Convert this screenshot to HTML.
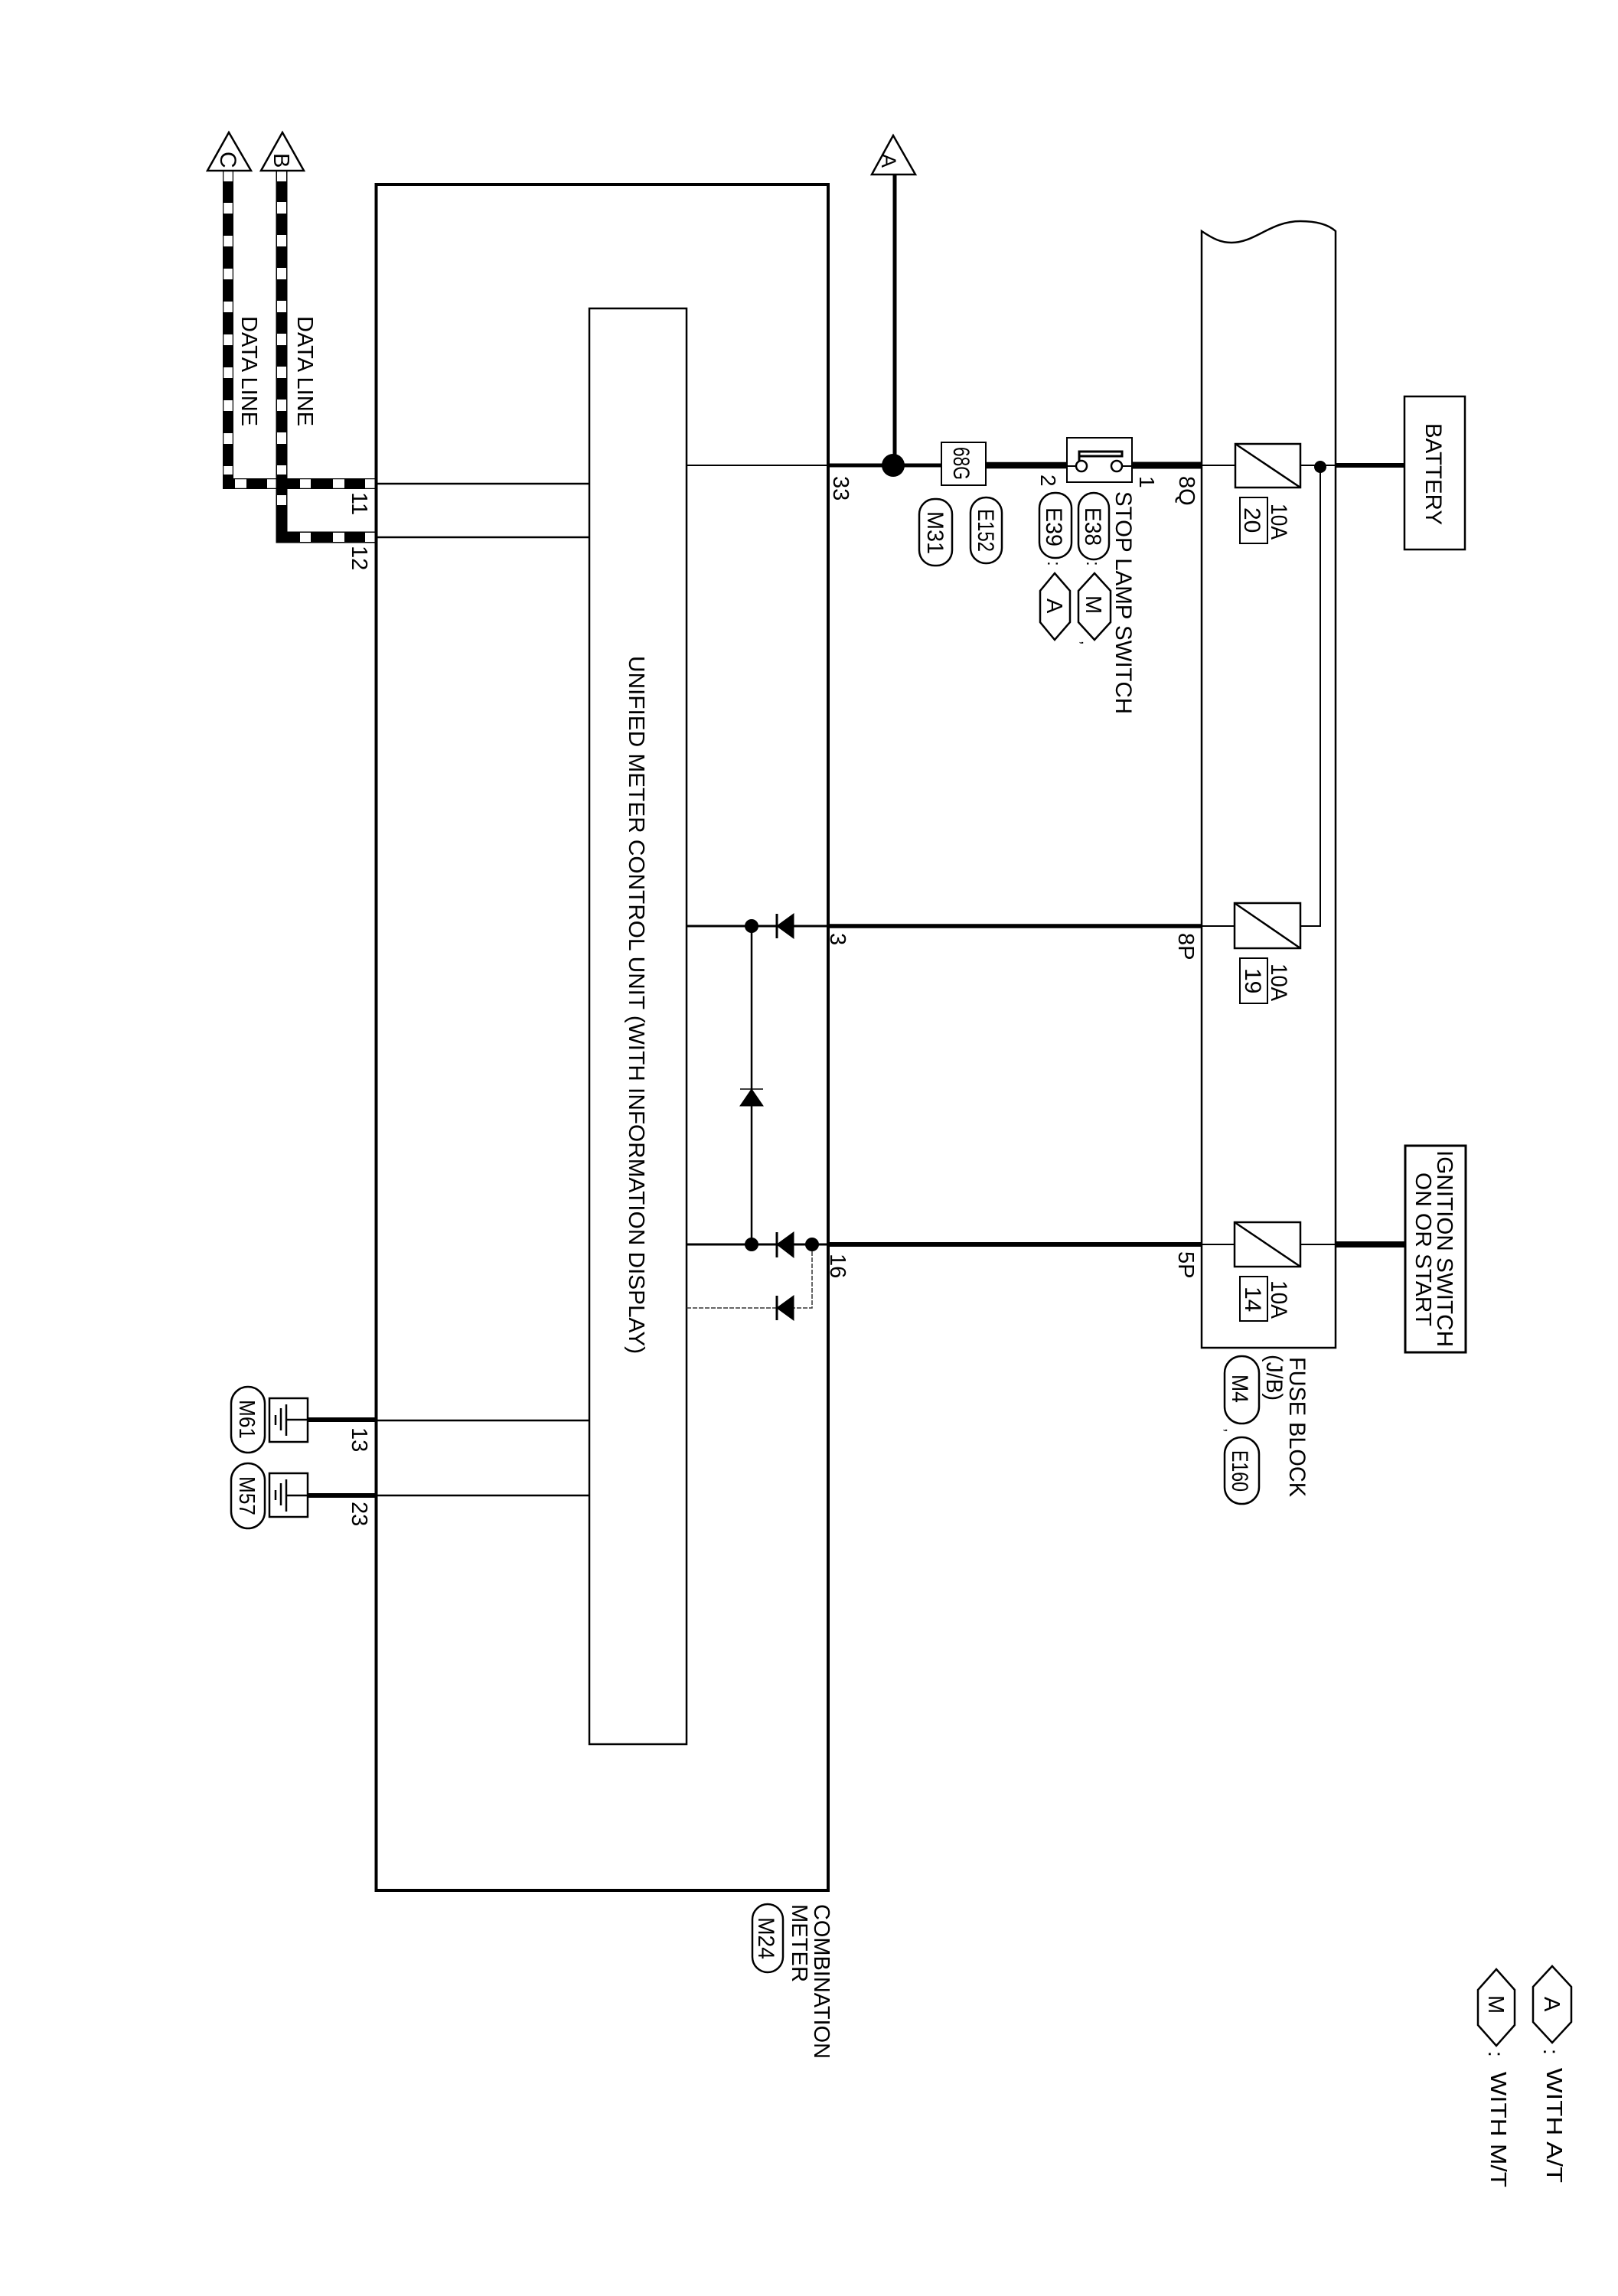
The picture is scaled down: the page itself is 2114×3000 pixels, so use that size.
<!DOCTYPE html>
<html>
<head>
<meta charset="utf-8">
<style>
html,body{margin:0;padding:0;background:#fff;}
svg{display:block;}
text{font-family:"Liberation Sans",sans-serif;fill:#000;}
</style>
</head>
<body>
<svg xmlns="http://www.w3.org/2000/svg" width="2114" height="3000" viewBox="0 0 2114 3000">
<rect width="2114" height="3000" fill="#fff"/>

<!-- data lines -->
<path d="M298 223V632H491" fill="none" stroke="#000" stroke-width="14"/>
<path d="M298 224V237M298 265V279M298 308V322M298 351V365M298 394V408M298 437V451M298 480V494M298 523V537M298 566V580M298 609V620M307 632H322M349 632H361M392 632H406M435 632H450M477 632H490" fill="none" stroke="#fff" stroke-width="11.5"/>
<path d="M368 223V702H491" fill="none" stroke="#000" stroke-width="15"/>
<path d="M368 224V237M368 264V279M368 307V322M368 350V365M368 393V408M368 436V451M368 479V494M368 522V537M368 565V580M368 608V620M368 647V660M392 702H406M435 702H450M477 702H490" fill="none" stroke="#fff" stroke-width="12"/>
<polygon points="299,173 271,223 328,223" fill="#fff" stroke="#000" stroke-width="2.5"/>
<polygon points="369,173 341,223 397,223" fill="#fff" stroke="#000" stroke-width="2.5"/>
<text transform="translate(288,198) rotate(90)" font-size="30">C</text>
<text transform="translate(358,200) rotate(90)" font-size="29">B</text>
<text transform="translate(316,413) rotate(90)" font-size="29" textLength="144" lengthAdjust="spacingAndGlyphs">DATA LINE</text>
<text transform="translate(389,413) rotate(90)" font-size="29" textLength="144" lengthAdjust="spacingAndGlyphs">DATA LINE</text>
<text transform="translate(460,643) rotate(90)" font-size="29">11</text>
<text transform="translate(460,713) rotate(90)" font-size="29">12</text>

<!-- outer box -->
<rect x="491.5" y="241" width="590.5" height="2229" fill="none" stroke="#000" stroke-width="4"/>
<!-- inner box -->
<rect x="770" y="403" width="127" height="1876" fill="none" stroke="#000" stroke-width="2.5"/>
<text transform="translate(822,857) rotate(90)" font-size="29" textLength="912" lengthAdjust="spacingAndGlyphs">UNIFIED METER CONTROL UNIT (WITH INFORMATION DISPLAY)</text>

<!-- thin links -->
<g stroke="#000" fill="none">
<path d="M492 632H770M492 702H770M492 1856H770M492 1954H770" stroke-width="2.5"/>
<path d="M897 608H1082" stroke-width="2"/>
<path d="M897 1210H1082M897 1626H1082" stroke-width="3"/>
<path d="M897 1709H1061V1626" stroke-width="1.5" stroke="#333" stroke-dasharray="6 2"/>
<path d="M982 1210V1626" stroke-width="2.5"/>
<!-- main wires -->
<path d="M1082 608H1230" stroke-width="5"/>
<path d="M1169 228V608" stroke-width="5"/>
<path d="M1288 608H1394" stroke-width="8.5"/>
<path d="M1479 608H1570" stroke-width="9"/>
<path d="M1570 608H1614M1699 608H1745" stroke-width="2"/>
<path d="M1745 608H1835" stroke-width="6"/>
<path d="M1725 610V1210H1699" stroke-width="2"/>
<path d="M1082 1210H1570" stroke-width="5.5"/>
<path d="M1570 1210H1613" stroke-width="2"/>
<path d="M1082 1626H1570" stroke-width="6"/>
<path d="M1570 1626H1613M1699 1626H1744" stroke-width="2"/>
<path d="M1744 1626H1836" stroke-width="8"/>
<!-- ground leads -->
<path d="M403 1855H491" stroke-width="6"/>
<path d="M403 1954H491" stroke-width="6"/>
</g>

<!-- junctions -->
<circle cx="1167" cy="608" r="15" fill="#000"/>
<circle cx="1725" cy="610" r="8" fill="#000"/>
<circle cx="982" cy="1210" r="9" fill="#000"/>
<circle cx="982" cy="1626" r="9" fill="#000"/>
<circle cx="1061" cy="1626" r="9" fill="#000"/>

<!-- diodes -->
<g fill="#000" stroke="#000">
<polygon points="1015,1210 1037,1194 1037,1226"/><path d="M1015 1194V1226" stroke-width="3"/>
<polygon points="1015,1626 1037,1610 1037,1643"/><path d="M1015 1610V1643" stroke-width="3"/>
<polygon points="1015,1709 1037,1693 1037,1725"/><path d="M1015 1693V1725" stroke-width="3"/>
<polygon points="982,1423 997,1445 967,1445"/><path d="M967 1423H997" stroke-width="1.5"/>
</g>

<!-- top A flag -->
<polygon points="1167,177 1139,228 1196,228" fill="#fff" stroke="#000" stroke-width="2.5"/>
<text transform="translate(1152,201) rotate(90)" font-size="27">A</text>
<text transform="translate(1089,622) rotate(90)" font-size="29">33</text>

<!-- 68G -->
<rect x="1230" y="578" width="58" height="56" fill="#fff" stroke="#000" stroke-width="2"/>
<text transform="translate(1246,584) rotate(90)" font-size="30" textLength="43" lengthAdjust="spacingAndGlyphs">68G</text>

<!-- switch -->
<rect x="1394" y="572" width="85" height="58" fill="#fff" stroke="#000" stroke-width="2"/>
<path d="M1394 609H1406M1466 609H1479" stroke="#000" stroke-width="2"/>
<circle cx="1413" cy="609" r="7" fill="#fff" stroke="#000" stroke-width="2.5"/>
<circle cx="1459" cy="609" r="7" fill="#fff" stroke="#000" stroke-width="2.5"/>
<path d="M1410 602V590H1466V596H1410" fill="none" stroke="#000" stroke-width="3"/>
<text transform="translate(1489,622) rotate(90)" font-size="28">1</text>
<text transform="translate(1360,620) rotate(90)" font-size="28">2</text>
<text transform="translate(1541,622) rotate(90)" font-size="29">8Q</text>
<text transform="translate(1458,642) rotate(90)" font-size="30" textLength="291" lengthAdjust="spacingAndGlyphs">STOP LAMP SWITCH</text>

<!-- connector pills -->
<g fill="#fff" stroke="#000" stroke-width="2.5">
<rect x="1409" y="644" width="40" height="87" rx="20" ry="20"/>
<rect x="1358" y="644" width="42" height="85" rx="20" ry="20"/>
<rect x="1268" y="650" width="41" height="86" rx="20" ry="20"/>
<rect x="1201" y="652" width="43" height="87" rx="20" ry="20"/>
<rect x="1600" y="1772" width="45" height="88" rx="22" ry="22"/>
<rect x="1600" y="1878" width="45" height="87" rx="22" ry="22"/>
<rect x="302" y="1812" width="44" height="86" rx="22" ry="22"/>
<rect x="302" y="1912" width="44" height="85" rx="22" ry="22"/>
<rect x="983" y="2488" width="40" height="89" rx="20" ry="20"/>
</g>
<text transform="translate(1418,663) rotate(90)" font-size="30" textLength="50" lengthAdjust="spacingAndGlyphs">E38</text>
<text transform="translate(1367,663) rotate(90)" font-size="30" textLength="51" lengthAdjust="spacingAndGlyphs">E39</text>
<text transform="translate(1278,665) rotate(90)" font-size="30" textLength="56" lengthAdjust="spacingAndGlyphs">E152</text>
<text transform="translate(1212,668) rotate(90)" font-size="30" textLength="56" lengthAdjust="spacingAndGlyphs">M31</text>
<text transform="translate(1610,1796) rotate(90)" font-size="30" textLength="37" lengthAdjust="spacingAndGlyphs">M4</text>
<text transform="translate(1610,1895) rotate(90)" font-size="30" textLength="54" lengthAdjust="spacingAndGlyphs">E160</text>
<text transform="translate(313,1829) rotate(90)" font-size="29" textLength="51" lengthAdjust="spacingAndGlyphs">M61</text>
<text transform="translate(313,1929) rotate(90)" font-size="29" textLength="51" lengthAdjust="spacingAndGlyphs">M57</text>
<text transform="translate(991,2505) rotate(90)" font-size="30" textLength="55" lengthAdjust="spacingAndGlyphs">M24</text>

<!-- small hexes by switch -->
<g fill="#fff" stroke="#000" stroke-width="2.5">
<polygon points="1430,749 1451,772 1451,813 1430,836 1409,813 1409,772"/>
<polygon points="1378,749 1398,772 1398,813 1378,836 1359,813 1359,772"/>
<polygon points="2028,2569 2053,2596 2053,2642 2028,2669 2003,2642 2003,2596"/>
<polygon points="1955,2573 1979,2600 1979,2646 1955,2673 1931,2646 1931,2600"/>
</g>
<text transform="translate(1419,778) rotate(90)" font-size="29">M</text>
<text transform="translate(1368,782) rotate(90)" font-size="29">A</text>
<text transform="translate(2018,2609) rotate(90)" font-size="29">A</text>
<text transform="translate(1945,2607) rotate(90)" font-size="29">M</text>
<text transform="translate(1420,733) rotate(90)" font-size="24">:</text>
<text transform="translate(1369,733) rotate(90)" font-size="24">:</text>
<text transform="translate(1413,837) rotate(90)" font-size="20">,</text>
<text transform="translate(1601,1866) rotate(90)" font-size="20">,</text>
<text transform="translate(2017,2677) rotate(90)" font-size="28">:</text>
<text transform="translate(1945,2680) rotate(90)" font-size="28">:</text>
<text transform="translate(2021,2702) rotate(90)" font-size="29" textLength="150" lengthAdjust="spacingAndGlyphs">WITH A/T</text>
<text transform="translate(1948,2707) rotate(90)" font-size="29" textLength="151" lengthAdjust="spacingAndGlyphs">WITH M/T</text>

<!-- fuse block -->
<path d="M1570 302 C1585 312 1595 317 1609 317 C1640 317 1660 289 1699 289 C1720 289 1735 293 1745 302 V1761 H1570 Z" fill="none" stroke="#000" stroke-width="2.5"/>
<path d="M1570 608H1614M1699 608H1745" stroke="#000" stroke-width="2"/>

<!-- fuses -->
<g fill="#fff" stroke="#000" stroke-width="2.5">
<rect x="1614" y="580" width="85" height="57"/>
<rect x="1613" y="1180" width="86" height="59"/>
<rect x="1613" y="1597" width="86" height="58"/>
<rect x="1620" y="650" width="36" height="60" stroke-width="2"/>
<rect x="1620" y="1252" width="36" height="59" stroke-width="2"/>
<rect x="1620" y="1668" width="36" height="58" stroke-width="2"/>
</g>
<path d="M1614 580L1699 637M1613 1180L1699 1239M1613 1597L1699 1655" stroke="#000" stroke-width="2.5"/>
<text transform="translate(1661,658) rotate(90)" font-size="30" textLength="47" lengthAdjust="spacingAndGlyphs">10A</text>
<text transform="translate(1661,1259) rotate(90)" font-size="30" textLength="49" lengthAdjust="spacingAndGlyphs">10A</text>
<text transform="translate(1661,1673) rotate(90)" font-size="30" textLength="50" lengthAdjust="spacingAndGlyphs">10A</text>
<text transform="translate(1626,663) rotate(90)" font-size="30">20</text>
<text transform="translate(1627,1265) rotate(90)" font-size="30">19</text>
<text transform="translate(1627,1681) rotate(90)" font-size="30">14</text>
<text transform="translate(1540,1219) rotate(90)" font-size="29">8P</text>
<text transform="translate(1540,1635) rotate(90)" font-size="29">5P</text>
<text transform="translate(1085,1219) rotate(90)" font-size="29">3</text>
<text transform="translate(1085,1638) rotate(90)" font-size="29">16</text>

<!-- labels -->
<text transform="translate(1685,1773) rotate(90)" font-size="30" textLength="183" lengthAdjust="spacingAndGlyphs">FUSE BLOCK</text>
<text transform="translate(1655,1770) rotate(90)" font-size="30" textLength="60" lengthAdjust="spacingAndGlyphs">(J/B)</text>
<text transform="translate(1064,2488) rotate(90)" font-size="29" textLength="202" lengthAdjust="spacingAndGlyphs">COMBINATION</text>
<text transform="translate(1035,2488) rotate(90)" font-size="29" textLength="102" lengthAdjust="spacingAndGlyphs">METER</text>

<!-- battery / ignition -->
<rect x="1835" y="518" width="79" height="200" fill="#fff" stroke="#000" stroke-width="2.5"/>
<text transform="translate(1863,553) rotate(90)" font-size="30" textLength="133" lengthAdjust="spacingAndGlyphs">BATTERY</text>
<rect x="1836" y="1497" width="79" height="270" fill="#fff" stroke="#000" stroke-width="3"/>
<text transform="translate(1878,1503) rotate(90)" font-size="29" textLength="257" lengthAdjust="spacingAndGlyphs">IGNITION SWITCH</text>
<text transform="translate(1850,1532) rotate(90)" font-size="29" textLength="201" lengthAdjust="spacingAndGlyphs">ON OR START</text>

<!-- grounds -->
<g fill="#fff" stroke="#000" stroke-width="2.5">
<rect x="352" y="1827" width="50" height="57"/>
<rect x="352" y="1925" width="50" height="57"/>
</g>
<path d="M374 1855H402M374 1835V1876M367 1840V1869M360 1849V1862M374 1954H402M374 1933V1975M367 1938V1967M360 1947V1960" fill="none" stroke="#000" stroke-width="2.5"/>
<text transform="translate(460,1865) rotate(90)" font-size="29">13</text>
<text transform="translate(460,1962) rotate(90)" font-size="29">23</text>
</svg>
</body>
</html>
